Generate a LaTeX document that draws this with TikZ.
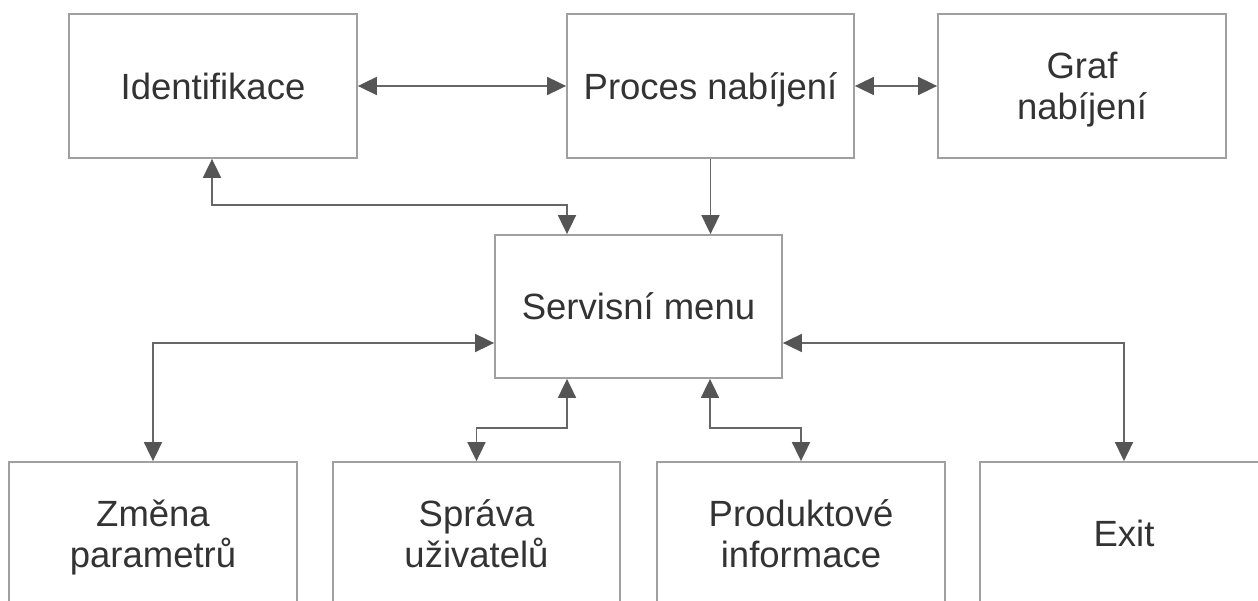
\documentclass[tikz,border=0pt]{standalone}
\usepackage{fontspec}
\setmainfont{Liberation Sans}
\usetikzlibrary{arrows.meta}
\definecolor{boxline}{HTML}{A0A0A0}
\definecolor{wire}{HTML}{666666}
\definecolor{tipc}{HTML}{555555}
\definecolor{ink}{HTML}{333333}
% two centred lines, baseline on the first line, fixed line distance
\newcommand\twolines[2]{\vtop{\baselineskip=41pt\lineskiplimit=-100pt
  \halign{\hfil##\hfil\cr #1\cr #2\cr}}}
\begin{document}
\begin{tikzpicture}[x=1pt,y=-1pt,
  blk/.style={draw=boxline, line width=1.8pt, minimum width=288pt,
    minimum height=143pt, inner sep=0pt, text=ink,
    font=\fontsize{36.5}{41}\selectfont},
  oneline/.style={text height=26.1pt, text depth=0pt},
  twoline/.style={text height=26.1pt, text depth=41pt},
  link/.style={draw=wire, line width=1.8pt,
    -{Triangle[length=19pt,width=18pt,color=tipc]}},
  dlink/.style={draw=wire, line width=1.8pt,
    {Triangle[length=19pt,width=18pt,color=tipc]}-{Triangle[length=19pt,width=18pt,color=tipc]}}
]
\useasboundingbox (0,0) rectangle (1258,601);
\clip (0,0) rectangle (1258,601);

% top row
\node[blk, oneline, minimum height=144pt] (id) at (213,86) {Identifikace};
\node[blk, oneline, minimum height=144pt, minimum width=287pt] (pn) at (710.5,86) {Proces nabíjení};
\node[blk, twoline, minimum height=144pt] (gn) at (1082,86) {\twolines{Graf}{nabíjení}};

% central menu
\node[blk, oneline, minimum width=287pt] (sm) at (638.5,306.5) {Servisní menu};

% menu items (running off the lower edge)
\node[blk, twoline] (zp) at (153,533.5) {\twolines{Změna}{parametrů}};
\node[blk, twoline, minimum width=287pt] (su) at (476.5,533.5) {\twolines{Správa}{uživatelů}};
\node[blk, twoline] (pi) at (801,533.5) {\twolines{Produktové}{informace}};
\node[blk, oneline] (ex) at (1124,533.5) {Exit};

% connectors between the top row
\draw[dlink] (id) -- (pn);
\draw[dlink] (pn) -- (gn);
\draw[link] (pn.south) -- (pn.south |- sm.north);
\draw[dlink] ([xshift=-1pt]id.south) |- ([xshift=-71.5pt,yshift=29pt]sm.north)
  -- ([xshift=-71.5pt]sm.north);

% connectors to the menu items
\draw[dlink] ([yshift=-36.5pt]sm.west) -| (zp.north);
\draw[dlink] ([yshift=-36.5pt]sm.east) -| (ex.north);
\draw[dlink] ([xshift=-71.5pt]sm.south) -- ++(0,49) -| (su.north);
\draw[dlink] ([xshift=71.5pt]sm.south) -- ++(0,49) -| (pi.north);
\end{tikzpicture}
\end{document}
